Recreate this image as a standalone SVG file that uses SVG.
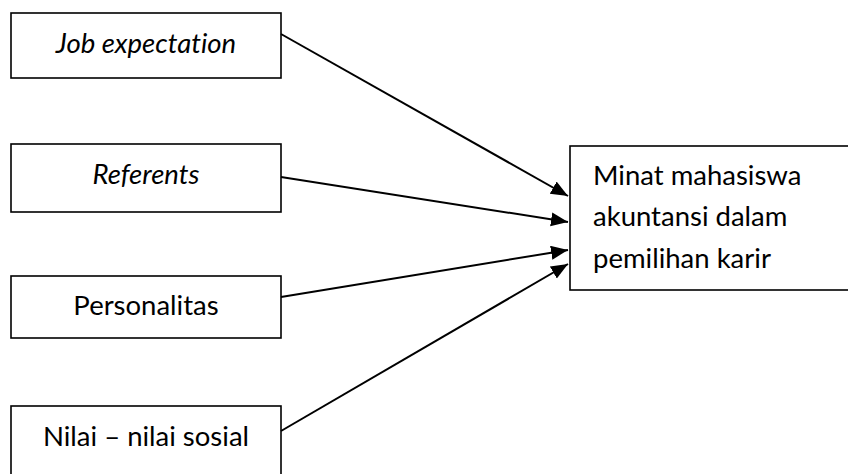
<svg xmlns="http://www.w3.org/2000/svg" width="848" height="474" viewBox="0 0 848 474">
<style>
.box{fill:#fff;stroke:#000;stroke-width:1.6}
.t{font-family:Lato,"Open Sans",sans-serif;font-size:27.5px;fill:#000;font-variant-ligatures:none}
.c{text-anchor:middle}
.i{font-style:italic}
.conn line{stroke:#000;stroke-width:2}
</style>
<defs>
<marker id="ah" markerUnits="userSpaceOnUse" markerWidth="19" markerHeight="15" refX="17" refY="7" orient="auto">
<path d="M0,0 L17,7 L0,14 z" fill="#000"/>
</marker>
</defs>
<g id="n1"><rect class="box" x="11" y="13" width="270" height="65"/><text class="t c i" x="146" y="53">Job expectation</text></g>
<g id="n2"><rect class="box" x="11" y="144" width="270" height="68"/><text class="t c i" x="146" y="184">Referents</text></g>
<g id="n3"><rect class="box" x="11" y="276" width="270" height="62"/><text class="t c" x="146" y="315">Personalitas</text></g>
<g id="n4"><rect class="box" x="11" y="406" width="270" height="80"/><text class="t c" x="146" y="446">Nilai – nilai sosial</text></g>
<g id="n5"><rect class="box" x="570" y="146" width="290" height="144"/>
<text class="t" x="593" y="185">Minat mahasiswa</text>
<text class="t" x="593" y="226">akuntansi dalam</text>
<text class="t" x="593" y="268">pemilihan karir</text></g>
<g class="conn" id="connectors">
<line x1="281" y1="34" x2="568" y2="196" marker-end="url(#ah)"/>
<line x1="281" y1="177" x2="568" y2="222" marker-end="url(#ah)"/>
<line x1="281" y1="297" x2="568" y2="250" marker-end="url(#ah)"/>
<line x1="281" y1="431" x2="568" y2="264" marker-end="url(#ah)"/>
</g>
</svg>
